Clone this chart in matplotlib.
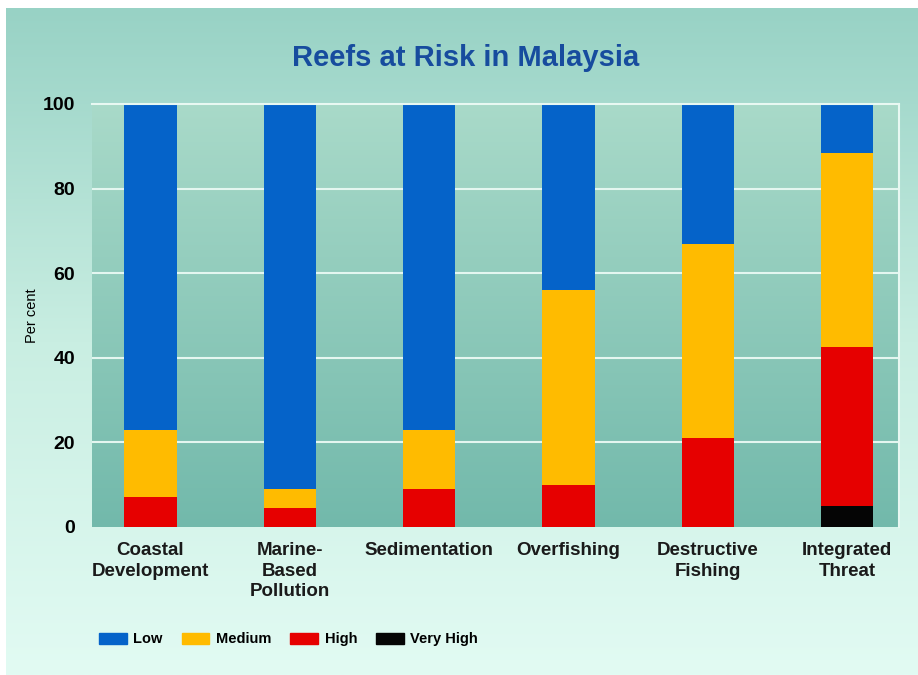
import matplotlib.pyplot as plt
import numpy as np
from matplotlib.colors import LinearSegmentedColormap

categories = ["Coastal\nDevelopment", "Marine-\nBased\nPollution", "Sedimentation",
              "Overfishing", "Destructive\nFishing", "Integrated\nThreat"]
very_high = [0, 0, 0, 0, 0, 5]
high = [7, 4.5, 9, 10, 21, 37.5]
medium = [16, 4.5, 14, 46, 46, 46]
low = [77, 91, 77, 44, 33, 11.5]

levels = ["Low", "Medium", "High", "Very High"]
colors = {"Low": "#0563c9", "Medium": "#ffbb00", "High": "#e60000", "Very High": "#050505"}

plt.rcParams['font.family'] = ['Liberation Sans', 'DejaVu Sans']

fig = plt.figure(figsize=(9.18, 6.75), dpi=100)
fig.patch.set_facecolor("white")

# background panel with vertical gradient
bg = fig.add_axes([0.006, 0.0, 0.994, 0.988], zorder=-5)
bg_cmap = LinearSegmentedColormap.from_list("bg", ["#e2fbf3", "#c9eee2", "#98d2c5"])
bg.imshow(np.linspace(0, 1, 256).reshape(-1, 1), cmap=bg_cmap, aspect="auto",
          origin="lower", extent=[0, 1, 0, 1])
bg.set_axis_off()

ax = fig.add_axes([0.1002, 0.2193, 0.8788, 0.6267])
x = np.arange(len(categories))
ax.set_xlim(-0.42, 5.37)
ax.set_ylim(0, 100)

plot_cmap = LinearSegmentedColormap.from_list("plot", ["#72b9ab", "#a9dac9"])
ax.imshow(np.linspace(0, 1, 256).reshape(-1, 1), cmap=plot_cmap, aspect="auto",
          origin="lower", extent=[-0.42, 5.37, 0, 100], zorder=0)

for yv in [20, 40, 60, 80]:
    ax.axhline(yv, color="#e4f6f0", lw=1.5, zorder=1)

w = 0.375
b1 = np.array(very_high, dtype=float)
b2 = b1 + np.array(high)
b3 = b2 + np.array(medium)
ax.bar(x, very_high, w, color=colors["Very High"], zorder=2, label="Very High")
ax.bar(x, high, w, bottom=b1, color=colors["High"], zorder=2, label="High")
ax.bar(x, medium, w, bottom=b2, color=colors["Medium"], zorder=2, label="Medium")
ax.bar(x, low, w, bottom=b3, color=colors["Low"], zorder=2, label="Low")

for side in ["left", "bottom"]:
    ax.spines[side].set_visible(False)
for side in ["top", "right"]:
    ax.spines[side].set_color("#e8f8f2")
    ax.spines[side].set_linewidth(1.5)

ax.set_yticks([0, 20, 40, 60, 80, 100])
ax.set_yticklabels(["0", "20", "40", "60", "80", "100"], fontsize=14, fontweight="bold")
ax.set_xticks(x)
ax.set_xticklabels(categories, fontsize=13.5, fontweight="bold", color="#1a1a1a",
                   linespacing=1.25, va="top")
ax.tick_params(axis="both", length=0)
ax.tick_params(axis="y", pad=12)
ax.tick_params(axis="x", pad=11)
ax.set_ylabel("Per cent", fontsize=10.5, labelpad=3)

fig.text(0.507, 0.914, "Reefs at Risk in Malaysia", ha="center", va="center",
         fontsize=21, fontweight="bold", color="#174c9e")

handles = [plt.Rectangle((0, 0), 1, 1, color=colors[k]) for k in levels]
fig.legend(handles, levels, loc="center left", bbox_to_anchor=(0.1, 0.053), ncol=4,
           frameon=False, prop={"size": 10.5, "weight": "bold"}, handlelength=1.9,
           handleheight=0.8, handletextpad=0.45, columnspacing=1.3, borderpad=0)

fig.savefig("out.png", dpi=100)
